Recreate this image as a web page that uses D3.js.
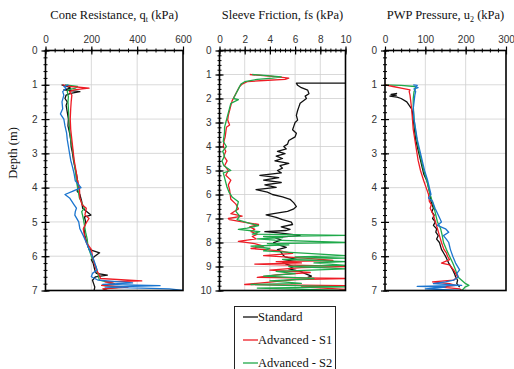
<!DOCTYPE html>
<html>
<head>
<meta charset="utf-8">
<script src="https://cdn.jsdelivr.net/npm/d3@7"></script>
<style>
  body { margin: 0; background: #fff; }
  svg { display: block; }
  .serif { font-family: "Liberation Serif", "Times New Roman", Times, serif; font-size: 12.5px; fill: #111; }
</style>
</head>
<body>
<div id="divChart"></div>
<script>
// series names / colours
const seriesNames = ['Standard', 'Advanced - S1', 'Advanced - S2', 'Advanced - S3'];
const seriesColors = ['#111111', '#ee1c25', '#1fa94a', '#1b75cf'];

// cone resistance qt (kPa), [depth m, value]
const qtStandard = [[1.0,70],[1.05,95],[1.1,110],[1.15,80],[1.2,150],[1.25,110],[1.3,90],[1.4,85],[1.5,95],[1.6,90],[1.8,95],[2.0,100],[2.2,98],[2.4,105],[2.6,110],[2.8,112],[3.0,118],[3.2,122],[3.4,128],[3.6,135],[3.8,140],[4.0,142],[4.1,138],[4.2,150],[4.4,158],[4.6,162],[4.8,198],[4.85,170],[5.0,175],[5.2,168],[5.4,172],[5.6,180],[5.8,190],[5.9,236],[6.0,215],[6.1,200],[6.2,208],[6.4,215],[6.5,222],[6.55,270],[6.6,218],[6.7,205],[6.8,210],[6.9,215],[7.0,212]];
const qtS1 = [[1.0,75],[1.05,110],[1.1,190],[1.12,160],[1.15,125],[1.2,105],[1.3,115],[1.5,112],[1.7,110],[2.0,108],[2.3,110],[2.6,115],[2.9,120],[3.2,125],[3.5,133],[3.8,140],[4.0,148],[4.3,150],[4.5,160],[4.6,178],[4.8,172],[4.9,190],[5.0,180],[5.2,165],[5.4,170],[5.6,178],[5.8,200],[6.0,205],[6.2,212],[6.4,222],[6.55,235],[6.65,240],[6.72,420],[6.75,260],[6.8,300],[6.85,245],[6.9,360],[6.95,250],[7.0,270]];
const qtS2 = [[1.0,85],[1.05,140],[1.1,130],[1.15,100],[1.2,95],[1.35,100],[1.5,98],[1.7,100],[2.0,102],[2.3,105],[2.6,110],[2.9,118],[3.2,124],[3.5,130],[3.8,135],[4.0,140],[4.3,148],[4.6,170],[4.7,158],[4.9,165],[5.1,170],[5.3,175],[5.5,182],[5.7,185],[5.9,195],[6.1,205],[6.3,220],[6.5,228],[6.7,235],[6.8,300],[6.85,245],[6.9,330],[6.95,255],[7.0,260]];
const qtS3 = [[1.0,100],[1.05,80],[1.1,90],[1.2,75],[1.3,80],[1.5,72],[1.7,75],[1.85,65],[2.0,80],[2.2,85],[2.4,92],[2.6,95],[2.8,100],[3.0,105],[3.2,110],[3.4,118],[3.6,125],[3.8,130],[4.0,155],[4.1,120],[4.2,85],[4.3,105],[4.5,125],[4.6,135],[4.7,130],[4.8,128],[5.0,145],[5.2,150],[5.4,165],[5.6,178],[5.8,190],[6.0,205],[6.2,215],[6.4,225],[6.5,205],[6.6,200],[6.7,230],[6.78,380],[6.82,250],[6.86,500],[6.9,260],[6.95,540],[7.0,600]];

// sleeve friction fs (kPa)
const fsStandard = [[1.36,10],[1.36,6.1],[1.45,6.2],[1.55,6.5],[1.65,7.0],[1.8,7.1],[1.9,6.8],[2.0,6.9],[2.2,6.4],[2.35,6.3],[2.5,6.2],[2.7,6.1],[2.9,6.2],[3.0,6.0],[3.15,5.9],[3.3,5.8],[3.45,6.1],[3.6,6.0],[3.75,5.5],[3.9,5.4],[4.0,5.1],[4.1,5.3],[4.2,4.6],[4.3,5.2],[4.4,4.5],[4.5,5.0],[4.6,4.4],[4.7,5.5],[4.8,4.8],[4.9,5.0],[5.0,4.6],[5.1,4.9],[5.2,3.2],[5.3,4.7],[5.4,3.5],[5.5,4.9],[5.6,3.6],[5.7,4.5],[5.8,2.9],[5.9,3.8],[6.0,4.2],[6.1,5.0],[6.2,5.6],[6.35,5.9],[6.5,6.1],[6.6,5.9],[6.7,5.4],[6.8,4.3],[6.85,3.7],[6.95,4.5],[7.05,5.0],[7.15,5.7],[7.25,5.8],[7.35,4.9],[7.45,5.6],[7.5,5.3],[7.55,3.6],[7.6,4.7],[7.7,6.4],[7.8,4.4],[7.9,4.9],[8.0,4.3],[8.1,4.7],[8.2,5.3],[8.3,4.6],[8.4,4.9],[8.5,5.0],[8.6,5.2],[8.7,6.1],[8.8,5.0],[8.9,5.3],[9.0,5.9],[9.1,5.5],[9.2,6.4],[9.3,6.8],[9.4,7.3],[9.45,7.0]];
const fsS1 = [[1.0,2.4],[1.05,3.5],[1.1,4.6],[1.15,5.5],[1.2,5.2],[1.25,3.5],[1.3,2.2],[1.4,1.8],[1.5,1.6],[1.7,1.4],[1.9,1.2],[2.1,1.0],[2.3,0.9],[2.5,0.8],[2.7,0.7],[2.9,0.65],[3.1,0.8],[3.2,0.55],[3.4,0.5],[3.6,0.45],[3.8,0.35],[4.0,0.3],[4.2,0.5],[4.4,0.35],[4.6,0.6],[4.8,0.4],[5.0,0.7],[5.2,0.5],[5.4,0.9],[5.6,0.7],[5.8,0.8],[6.0,0.85],[6.2,0.9],[6.4,1.3],[6.6,1.5],[6.7,1.2],[6.8,0.9],[6.9,1.8],[7.0,0.7],[7.05,0.8],[7.15,1.9],[7.25,3.1],[7.35,2.4],[7.45,2.8],[7.55,2.5],[7.65,3.0],[7.75,2.6],[7.85,2.9],[7.95,1.5],[8.05,2.8],[8.15,3.5],[8.25,2.5],[8.35,4.8],[8.45,5.8],[8.55,3.5],[8.65,6.8],[8.75,9.0],[8.8,4.5],[8.85,6.5],[8.9,2.8],[9.0,10],[9.05,6.5],[9.15,4.0],[9.25,7.2],[9.35,4.5],[9.45,3.0],[9.5,10],[9.55,6.0],[9.65,4.0],[9.75,2.0],[9.8,10],[9.85,6.5],[9.95,10],[10.0,9.5]];
const fsS2 = [[1.0,2.6],[1.05,3.8],[1.1,4.9],[1.15,4.2],[1.2,3.0],[1.3,2.0],[1.4,1.7],[1.6,1.5],[1.8,1.3],[2.0,1.1],[2.05,1.5],[2.2,0.9],[2.4,0.8],[2.6,0.7],[2.8,0.6],[3.0,0.5],[3.2,0.4],[3.4,0.4],[3.6,0.35],[3.8,0.3],[4.0,0.55],[4.2,0.25],[4.4,0.4],[4.6,0.2],[4.8,0.35],[5.0,0.9],[5.1,0.3],[5.3,0.4],[5.5,0.5],[5.7,0.6],[5.9,0.75],[6.1,1.0],[6.3,1.5],[6.5,1.4],[6.7,1.3],[6.9,1.6],[7.05,1.4],[7.2,2.4],[7.3,3.1],[7.4,2.2],[7.45,1.5],[7.55,3.2],[7.65,2.6],[7.7,10],[7.75,3.5],[7.8,5.0],[7.85,3.0],[7.9,4.4],[8.0,10],[8.05,3.8],[8.1,5.5],[8.15,2.5],[8.25,4.0],[8.35,3.5],[8.45,7.0],[8.55,10],[8.6,6.0],[8.65,10],[8.7,5.0],[8.8,10],[8.85,7.5],[8.95,10],[9.0,5.5],[9.05,8.0],[9.1,10],[9.2,4.5],[9.3,6.0],[9.4,3.5],[9.5,7.5],[9.6,4.0],[9.7,6.5],[9.75,2.5],[9.85,10],[9.9,3.0],[10.0,10]];

// pore water pressure u2 (kPa)
const u2Standard = [[1.25,30],[1.28,15],[1.3,28],[1.33,12],[1.36,30],[1.4,40],[1.5,54],[1.6,60],[1.7,66],[1.8,68],[2.0,70],[2.2,72],[2.4,74],[2.6,76],[2.8,80],[3.0,84],[3.2,88],[3.4,92],[3.6,96],[3.7,100],[3.8,104],[4.0,108],[4.2,112],[4.4,114],[4.6,120],[4.7,116],[4.8,122],[4.9,118],[5.0,125],[5.1,120],[5.2,128],[5.3,126],[5.4,132],[5.5,128],[5.6,135],[5.8,140],[5.9,145],[6.0,150],[6.2,158],[6.4,168],[6.5,172],[6.6,175],[6.7,180],[6.8,178],[6.9,185]];
const u2S1 = [[1.0,0],[1.05,20],[1.1,40],[1.15,62],[1.2,60],[1.3,62],[1.5,64],[1.7,66],[2.0,68],[2.3,70],[2.6,74],[2.9,78],[3.2,82],[3.5,88],[3.8,96],[4.0,102],[4.2,108],[4.4,110],[4.5,115],[4.6,112],[4.8,120],[5.0,125],[5.2,130],[5.4,135],[5.6,140],[5.8,146],[5.9,152],[6.0,155],[6.1,160],[6.2,140],[6.25,160],[6.4,170],[6.5,175],[6.6,180],[6.7,170],[6.75,118],[6.8,160],[6.85,175],[6.9,140],[6.95,185],[7.0,190]];
const u2S2 = [[1.0,0],[1.02,40],[1.05,74],[1.1,76],[1.2,72],[1.4,70],[1.6,70],[1.8,71],[2.0,72],[2.3,75],[2.6,79],[2.9,84],[3.2,90],[3.5,96],[3.8,104],[4.0,108],[4.2,112],[4.4,117],[4.6,122],[4.8,126],[5.0,130],[5.2,138],[5.4,142],[5.6,145],[5.8,152],[6.0,160],[6.2,168],[6.4,175],[6.6,180],[6.7,190],[6.8,200],[6.85,208],[6.9,198],[6.95,195],[7.0,190]];
const u2S3 = [[1.0,70],[1.02,80],[1.05,75],[1.08,82],[1.12,72],[1.2,76],[1.3,74],[1.5,72],[1.7,70],[2.0,72],[2.3,76],[2.6,80],[2.9,86],[3.2,92],[3.5,98],[3.8,106],[4.0,110],[4.2,114],[4.3,108],[4.4,118],[4.6,124],[4.8,132],[5.0,140],[5.1,130],[5.2,150],[5.3,158],[5.4,145],[5.5,152],[5.6,158],[5.8,162],[6.0,168],[6.2,175],[6.4,185],[6.5,178],[6.6,182],[6.7,170],[6.75,150],[6.8,120],[6.85,190],[6.88,80],[6.9,150],[6.95,100],[7.0,190]];

// panel settings
const panels = [
  { title: ['Cone  Resistance, q', 't', ' (kPa)'], x0: 45.5, x1: 183, xMax: 600, xMajor: 200, xMinor: 40, dMax: 7, dMinor: 0.2, series: [qtStandard, qtS1, qtS2, qtS3] },
  { title: ['Sleeve Friction, fs (kPa)'], x0: 219.5, x1: 345.5, xMax: 10, xMajor: 2, xMinor: 0.4, dMax: 10, dMinor: 0.2, series: [fsStandard, fsS1, fsS2] },
  { title: ['PWP Pressure, u', '2', ' (kPa)'], x0: 385, x1: 506, xMax: 300, xMajor: 100, xMinor: 20, dMax: 7, dMinor: 0.2, series: [u2Standard, u2S1, u2S2, u2S3] }
];
const plotTop = 50.5, plotBottom = 290.5;

const svg = d3.select('#divChart').append('svg').attr('width', 514).attr('height', 369);

panels.forEach((p, pi) => {
  const xScale = d3.scaleLinear().domain([0, p.xMax]).range([p.x0, p.x1]);
  const yScale = d3.scaleLinear().domain([0, p.dMax]).range([plotTop, plotBottom]);
  const g = svg.append('g');

  // grid
  g.selectAll('.gx').data(d3.range(p.xMajor, p.xMax, p.xMajor)).enter().append('line')
    .attr('x1', d => xScale(d)).attr('x2', d => xScale(d))
    .attr('y1', plotTop).attr('y2', plotBottom)
    .attr('stroke', '#cfcfcf').attr('stroke-width', 0.8);
  g.selectAll('.gy').data(d3.range(1, p.dMax, 1)).enter().append('line')
    .attr('x1', p.x0).attr('x2', p.x1)
    .attr('y1', d => yScale(d)).attr('y2', d => yScale(d))
    .attr('stroke', '#cfcfcf').attr('stroke-width', 0.8);

  // data lines
  const clipId = 'clip' + pi;
  svg.append('clipPath').attr('id', clipId).append('rect')
    .attr('x', p.x0).attr('y', plotTop).attr('width', p.x1 - p.x0).attr('height', plotBottom - plotTop);
  const line = d3.line().x(d => xScale(d[1])).y(d => yScale(d[0]));
  const lines = g.append('g').attr('clip-path', `url(#${clipId})`);
  const order = p.series.length === 4 ? [0, 2, 1, 3] : [0, 1, 2];
  order.forEach(i => {
    lines.append('path').datum(p.series[i])
      .attr('fill', 'none').attr('stroke', seriesColors[i])
      .attr('stroke-width', 1.3).attr('stroke-linejoin', 'round')
      .attr('d', line);
  });

  // minor ticks
  const xMinorTicks = d3.range(0, p.xMax + 1e-9, p.xMinor);
  const yMinorTicks = d3.range(0, p.dMax + 1e-9, p.dMinor);
  g.append('g').attr('transform', `translate(0,${plotTop})`)
    .call(d3.axisTop(xScale).tickValues(xMinorTicks).tickSizeInner(2).tickSizeOuter(0).tickFormat(''))
    .call(a => a.select('.domain').remove())
    .selectAll('line').attr('y2', -2).attr('y1', 2).attr('stroke', '#000');
  g.append('g').attr('transform', `translate(${p.x0},0)`)
    .call(d3.axisLeft(yScale).tickValues(yMinorTicks).tickSizeInner(2).tickSizeOuter(0).tickFormat(''))
    .call(a => a.select('.domain').remove())
    .selectAll('line').attr('x2', -2).attr('x1', 2).attr('stroke', '#000');

  // major ticks + labels
  const xAxis = g.append('g').attr('transform', `translate(0,${plotTop})`)
    .call(d3.axisTop(xScale).tickValues(d3.range(0, p.xMax + 1e-9, p.xMajor)).tickSizeInner(4).tickSizeOuter(0).tickPadding(4));
  xAxis.select('.domain').remove();
  xAxis.selectAll('line').attr('y1', 4).attr('stroke', '#000').attr('stroke-width', 1.2);
  const yAxis = g.append('g').attr('transform', `translate(${p.x0},0)`)
    .call(d3.axisLeft(yScale).ticks(p.dMax).tickSizeInner(4).tickSizeOuter(0).tickPadding(4));
  yAxis.select('.domain').remove();
  yAxis.selectAll('line').attr('x1', 4).attr('stroke', '#000').attr('stroke-width', 1.2);
  g.selectAll('.tick text').attr('fill', '#333');

  // frame
  g.append('rect')
    .attr('x', p.x0).attr('y', plotTop)
    .attr('width', p.x1 - p.x0).attr('height', plotBottom - plotTop)
    .attr('fill', 'none').attr('stroke', '#000').attr('stroke-width', 1.6);

  // title
  const t = g.append('text').attr('class', 'serif')
    .attr('font-family', 'Liberation Serif')
    .attr('x', (p.x0 + p.x1) / 2).attr('y', 19).attr('text-anchor', 'middle');
  t.append('tspan').text(p.title[0]);
  if (p.title.length > 1) {
    t.append('tspan').attr('font-size', 8).style('font-size', '8px').attr('dy', 3).text(p.title[1]);
    t.append('tspan').attr('dy', -3).text(p.title[2]);
  }
});

// y label
svg.append('text').attr('class', 'serif')
  .attr('transform', 'translate(17,153) rotate(-90)')
  .attr('text-anchor', 'middle').text('Depth (m)');

// legend
const lg = svg.append('g');
lg.append('rect').attr('x', 234.5).attr('y', 306.5).attr('width', 101).attr('height', 80)
  .attr('fill', '#fff').attr('stroke', '#222').attr('stroke-width', 1);
const legendY = d3.scalePoint().domain(seriesNames.slice(0, 3)).range([317, 363]);
seriesNames.slice(0, 3).forEach((name, i) => {
  const y = legendY(name);
  lg.append('line').attr('x1', 243).attr('x2', 258).attr('y1', y).attr('y2', y)
    .attr('stroke', seriesColors[i]).attr('stroke-width', 1.3);
  lg.append('text').attr('class', 'serif').attr('x', 258).attr('y', y + 4).text(name);
});
</script>
</body>
</html>
